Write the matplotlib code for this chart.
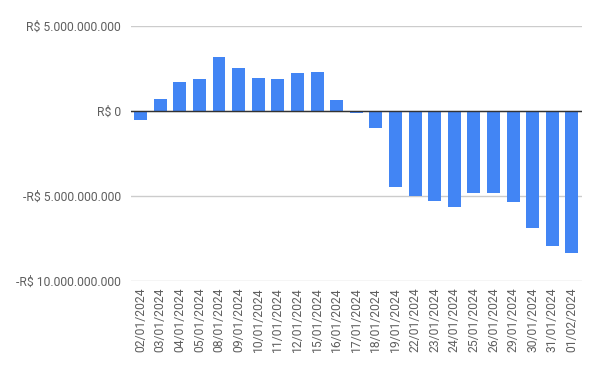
import matplotlib
matplotlib.use('Agg')
import matplotlib.pyplot as plt
from matplotlib.ticker import FuncFormatter

datas = ['02/01/2024', '03/01/2024', '04/01/2024', '05/01/2024', '08/01/2024',
         '09/01/2024', '10/01/2024', '11/01/2024', '12/01/2024', '15/01/2024',
         '16/01/2024', '17/01/2024', '18/01/2024', '19/01/2024', '22/01/2024',
         '23/01/2024', '24/01/2024', '25/01/2024', '26/01/2024', '29/01/2024',
         '30/01/2024', '31/01/2024', '01/02/2024']
# valores em bilhoes de reais
valores = [-0.51, 0.69, 1.71, 1.89, 3.19, 2.54, 1.95, 1.89, 2.24, 2.30,
           0.65, -0.10, -0.98, -4.47, -5.00, -5.30, -5.65, -4.83, -4.83,
           -5.36, -6.90, -7.97, -8.37]
valores = [v * 1e9 for v in valores]

plt.rcParams['font.family'] = ['Roboto', 'DejaVu Sans']


def reais(v, pos):
    s = '{:,.0f}'.format(abs(v)).replace(',', '.')
    if v < 0:
        return '-R$ ' + s
    return 'R$ ' + s


fig = plt.figure(figsize=(6, 3.71), dpi=100)
ax = fig.add_axes([0.218, 0.2434, 0.7515, 0.6866])

x = range(len(datas))
ax.bar(x, valores, width=0.66, color='#4285f4', zorder=3)

ax.set_ylim(-10e9, 5e9)
ax.set_xlim(-0.5, len(datas) - 0.5)
ax.set_yticks([-10e9, -5e9, 0, 5e9])
ax.yaxis.set_major_formatter(FuncFormatter(reais))
ax.set_xticks(list(x))
ax.set_xticklabels(datas, rotation=90)

ax.grid(axis='y', color='#cccccc', linewidth=1, zorder=0)
ax.axhline(0, color='#333333', linewidth=1, zorder=4)

for s in ax.spines.values():
    s.set_visible(False)
ax.tick_params(axis='both', length=0, labelsize=8.7, colors='#5f5f5f')
ax.tick_params(axis='y', pad=7)
ax.tick_params(axis='x', pad=5)

fig.savefig('out.png', dpi=100)
